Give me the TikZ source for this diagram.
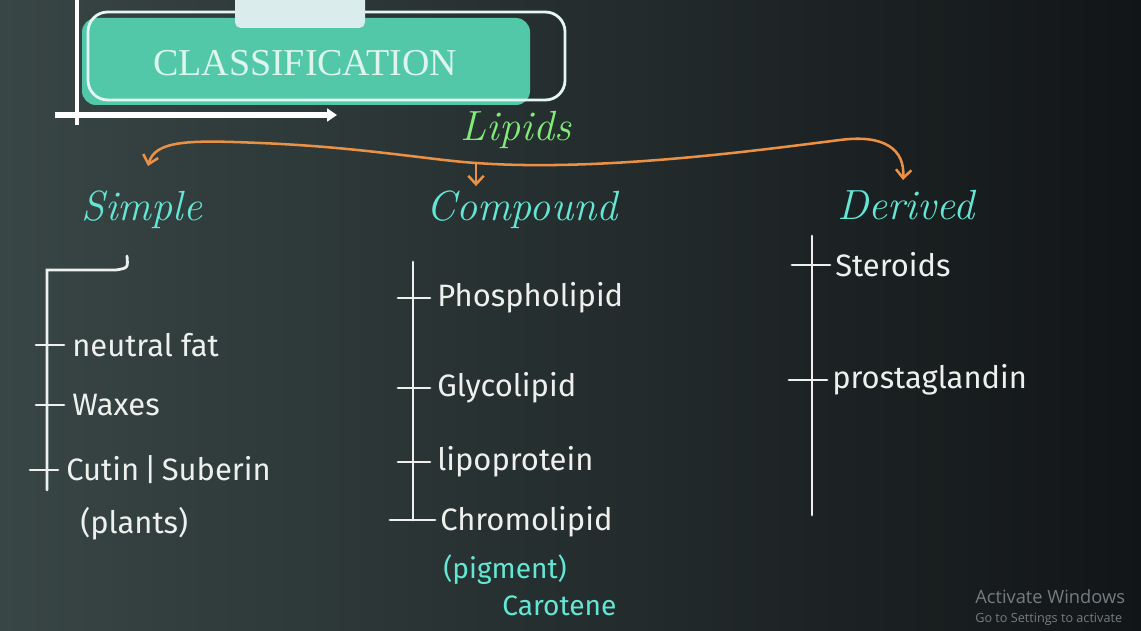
\documentclass[tikz,border=0pt]{standalone}
\usepackage{fontspec}
\usepackage{tikz}
\usetikzlibrary{arrows.meta}
\newfontfamily\boardfont{Liberation Serif}
\newfontfamily\chalkfont{Fira Sans}
\newfontfamily\winfont{Open Sans}
\definecolor{BoardLeft}{RGB}{56,70,69}
\definecolor{BoardMid}{RGB}{36,45,46}
\definecolor{BoardRight}{RGB}{18,21,23}
\definecolor{ChalkWhite}{RGB}{238,240,238}
\definecolor{HeadCyan}{RGB}{100,230,212}
\definecolor{LipidGreen}{RGB}{130,235,120}
\definecolor{BraceOrange}{RGB}{235,145,70}
\definecolor{BannerTeal}{RGB}{82,200,168}
\definecolor{BannerText}{RGB}{222,245,238}
\definecolor{TabGrey}{RGB}{218,236,236}
\definecolor{WinGrey}{RGB}{118,124,128}

\begin{document}
\begin{tikzpicture}[x=0.025cm, y=-0.025cm,
  chalk/.style={ChalkWhite, line width=2pt, line cap=round},
  item/.style={anchor=west, inner sep=0pt, text=ChalkWhite, font=\chalkfont\fontsize{22}{24}\selectfont},
  note/.style={anchor=west, inner sep=0pt, text=HeadCyan, font=\chalkfont\fontsize{20}{22}\selectfont},
  head/.style={text=HeadCyan, font=\itshape\fontsize{30}{32}\selectfont},
  brace/.style={BraceOrange, line width=1.8pt, line cap=round},
  barb/.tip={Straight Barb[length=6pt, width=11pt, line width=1.8pt]}]
  \useasboundingbox (0,0) rectangle (1141,630);
  \shade[left color=BoardLeft, middle color=BoardMid, right color=BoardRight] (0,0) rectangle (1141,630);

  % title banner
  \draw[white, line width=3pt] (77,0) -- (77,125);
  \draw[white, line width=4pt, -{Triangle[length=7pt, width=9pt]}] (55,115) -- (337,115);
  \fill[BannerTeal, rounded corners=10pt] (82,18) rectangle (530,105);
  \draw[white!85!BannerTeal, line width=2pt, rounded corners=14pt] (88,12) rectangle (565,100);
  \fill[TabGrey, rounded corners=4pt] (235,-10) rectangle (365,28);
  \node[text=BannerText, font=\boardfont\fontsize{27}{29}\selectfont] (title) at (305,63) {CLASSIFICATION};

  % headings
  \node[text=LipidGreen, font=\itshape\fontsize{30}{32}\selectfont] (lipids) at (516,130) {Lipids};
  \node[head] (simple) at (142,210) {Simple};
  \node[head] (compound) at (522,210) {Compound};
  \node[head] (derived) at (906,205) {Derived};

  \coordinate (fork) at (476,163);
  \draw[brace, barb-barb] (148,166) .. controls (155,140) and (190,140) .. (260,143)
    .. controls (360,147) and (430,160) .. (fork)
    .. controls (600,172) and (760,150) .. (840,140)
    .. controls (885,134) and (905,150) .. (903,180);
  \draw[brace, -barb] (fork) -- (fork |- compound.north);

  % simple
  \node[item] (fat) at (72,345) {neutral fat};
  \node[item] (waxes) at (72,405) {Waxes};
  \node[item] (cutin) at (66,470) {Cutin\,|\,Suberin};
  \node[item] (plants) at (80,524) {(plants)};
  \coordinate (hook) at (127,256);
  \draw[chalk] (hook) .. controls (128,268) .. (116,270) -- (47,270) -- (47,490);
  \foreach \n in {fat,waxes,cutin}
    \draw[chalk] (\n.west) ++(-8,0) -- ++(-28,0);

  % compound
  \node[item] (phospho) at (437,298) {Phospholipid};
  \node[item] (glyco) at (437,388) {Glycolipid};
  \node[item] (lipo) at (437,462) {lipoprotein};
  \node[item] (chromo) at (440,522) {Chromolipid};
  \node[note] (pigment) at (443,570) {(pigment)};
  \node[note] (carotene) at (502,606) {Carotene};
  \draw[chalk] (413,262) -- (413,520);
  \foreach \n in {phospho,glyco,lipo}
    \draw[chalk] (\n.west) ++(-7,0) -- ++(-32,0);
  \draw[chalk] (chromo.west) ++(-5,-2) -- ++(-45,0);

  % derived
  \node[item] (steroids) at (835,265) {Steroids};
  \node[item] (prosta) at (832,380) {prostaglandin};
  \draw[chalk] (812,236) -- (812,515);
  \foreach \n in {steroids,prosta}
    \draw[chalk] (\n.west) ++(-5,0) -- ++(-38,0);

  % watermark
  \node[anchor=west, inner sep=0pt, text=WinGrey, font=\winfont\fontsize{13}{14}\selectfont] (activate) at (975,597) {Activate Windows};
  \node[anchor=west, inner sep=0pt, text=WinGrey, font=\winfont\fontsize{9}{10}\selectfont] (settings) at (975,619) {Go to Settings to activate};
\end{tikzpicture}
\end{document}
